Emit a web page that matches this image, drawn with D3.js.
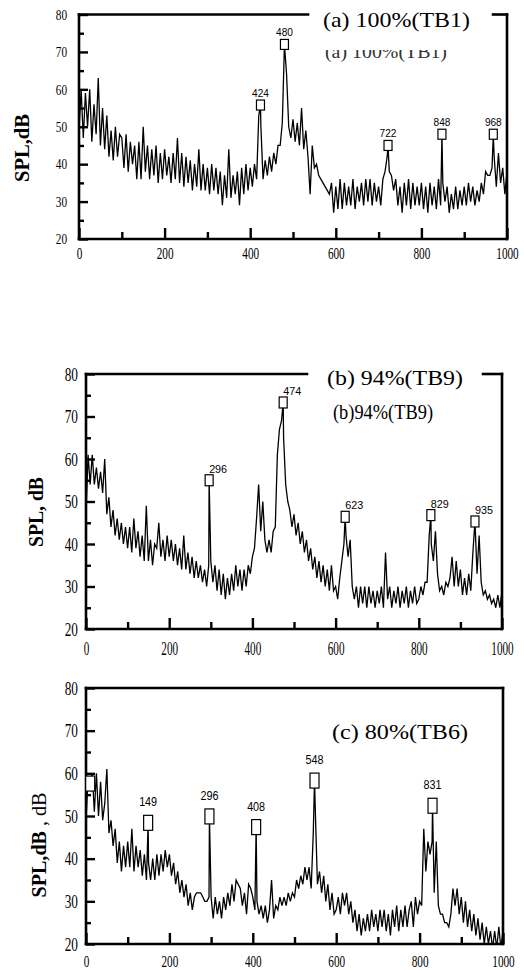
<!DOCTYPE html>
<html><head><meta charset="utf-8">
<script src="https://cdn.jsdelivr.net/npm/d3@7"></script>
<style>body{margin:0;background:#fff} svg{display:block}</style>
</head><body><svg id="chart" width="524" height="970"></svg>
<script>
// ---------------- DATA ----------------
const freqStep = 5; // Hz between spectrum samples (0..1000)
const xTicks = [0, 200, 400, 600, 800, 1000];
const xMinorTicks = [100, 300, 500, 700, 900];
const yTicks = [20, 30, 40, 50, 60, 70, 80];
const yMinorTicks = [25, 35, 45, 55, 65, 75];
const yTitle = "SPL,dB";

// (a) 100%(TB1)
const levelsA = [
  49,60,47,59,50,60,46,56,48,63,45,55,44,53,42,49,41,50,42,48,
  47,39,48,38,46,40,45,36,46,36,50,38,45,36,44,37,45,35,43,36,
  44,37,42,35,43,36,47,35,43,34,42,35,41,33,40,34,44,33,40,33,
  39,32,40,33,39,32,38,29,37,31,44,31,37,32,38,29,39,32,40,33,
  39,34,40,36,53,50,36,41,37,42,38,43,40,45,45,51,72,64,50,47,
  52,46,51,45,55,44,49,42,32,45,39,40,37,36,35,34,33,32,35,27,
  34,28,36,28,35,29,34,29,36,28,34,30,35,29,36,30,36,29,35,30,
  34,29,36,38,42,38,37,33,36,29,34,27,35,29,36,28,35,29,34,29,
  35,28,34,27,35,29,34,28,36,29,35,30,34,27,32,28,34,28,33,29,
  34,29,35,30,34,29,33,30,35,32,38,37,37,39,42,34,43,35,39,32,38
];
const peakFreqA = [424, 480, 722, 848, 968];
const peakLevelA = [55.8, 72, 45, 48, 48];
const peakLabelA = ["424", "480", "722", "848", "968"];
const titleA = "(a)  100%(TB1)";
const subtitleA = "(a) 100%(TB1)";

// (b) 94%(TB9)
const levelsB = [
  47,61,54,61,54,58,53,57,52,60,47,51,44,48,42,46,41,45,40,44,
  39,44,38,46,39,43,37,42,36,49,36,41,35,40,39,45,37,41,36,42,
  37,41,36,40,35,39,34,42,34,38,33,37,32,36,32,35,31,34,30,35,
  36,31,35,29,34,28,33,27,32,28,33,29,35,30,34,29,34,30,35,33,
  37,39,46,54,43,50,41,38,41,38,43,44,61,67,69,65,54,50,48,44,
  47,42,45,40,43,38,41,36,39,34,37,32,36,31,35,30,34,29,35,29,
  30,27,32,36,40,42,37,41,30,27,30,25,30,26,30,25,30,26,29,25,
  29,26,30,25,38,27,30,25,29,26,30,25,29,26,30,25,29,26,30,26,
  27,30,28,31,31,42,40,36,43,33,29,30,28,31,30,32,37,30,36,30,
  34,28,32,28,33,29,38,45,33,42,31,28,29,27,28,26,27,25,28,25,29
];
const peakFreqB = [296, 474, 623, 829, 935];
const peakLevelB = [55, 73.3, 46.4, 46.8, 45.3];
const peakLabelB = ["296", "474", "623", "829", "935"];
const titleB = "(b)  94%(TB9)";
const subtitleB = "(b)94%(TB9)";

// (c) 80%(TB6)
const levelsC = [
  49,59,52,60,51,60,50,58,49,53,61,46,49,43,47,39,44,37,43,38,
  44,38,47,37,43,38,42,36,41,35,39,35,40,35,41,36,41,37,42,38,
  41,36,39,34,37,32,35,31,34,29,32,28,31,32,32,32,31,30,30,31,
  31,26,31,27,30,26,31,28,32,29,34,30,35,34,33,29,32,27,34,33,
  31,28,30,27,29,26,29,25,28,35,26,29,28,31,29,31,29,32,30,32,
  31,35,33,36,34,38,35,38,33,46,51,34,37,32,36,30,34,28,32,27,
  28,31,27,32,29,32,27,30,25,28,23,27,22,26,23,27,23,28,24,27,
  23,28,24,28,23,27,22,28,24,29,23,28,24,29,24,28,30,24,31,27,
  30,29,47,37,44,41,44,32,44,29,27,27,25,25,24,27,33,29,33,27,
  31,25,30,24,28,23,27,22,26,21,25,20,24,20,23,19,23,19,24,19,23
];
const peakFreqC = [10, 149, 296, 408, 548, 831];
const peakLevelC = [57.6, 48.4, 49.9, 47.4, 58.3, 52.4];
const peakLabelC = ["", "149", "296", "408", "548", "831"];
const titleC = "(c)  80%(TB6)";

// ---------------- DRAW ----------------
const svg = d3.select("#chart");
const SERIF = "'Liberation Serif','Times New Roman',serif";
const SANS = "'Liberation Sans',Arial,sans-serif";
const fmt = d3.format("d");

function buildSeries(levels, pf, pl) {
  const m = new Map(levels.map((v, i) => [i * freqStep, v]));
  pf.forEach((f, i) => m.set(f, pl[i]));
  return Array.from(m, ([f, v]) => ({f, v})).sort((a, b) => a.f - b.f);
}

const panels = [
  {key: "a", levels: levelsA, pf: peakFreqA, pl: peakLevelA, plab: peakLabelA,
   L: 79, R: 507, T: 14.5, B: 239, gap: [308, 493],
   xFont: 17, xS: 0.66, xPad: 8, yFont: 15, yS: 0.75, yPad: 12,
   box: [8, 10], labMode: "center", labFont: 10, labW: 5.6, labGap: 3,
   title: {text: titleA, x: 323, y: 27, size: 22, len: 147},
   sub: {text: subtitleA, x: 325, y: 58, size: 18, len: 122, clipY: 50, fill: "#333"},
   yt: {x: 29, y: 148, size: 20, len: 68, parts: [[yTitle, "bold"]]}},
  {key: "b", levels: levelsB, pf: peakFreqB, pl: peakLevelB, plab: peakLabelB,
   L: 86, R: 502, T: 374, B: 629, gap: [307, 483],
   xFont: 18, xS: 0.62, xPad: 13, yFont: 19, yS: 0.7, yPad: 8,
   box: [8, 11], labMode: "right", labFont: 11, labW: 6, labGap: 2,
   title: {text: titleB, x: 327, y: 385, size: 21, len: 136},
   sub: {text: subtitleB, x: 333, y: 419, size: 20, len: 100, fill: "#000"},
   yt: {x: 43, y: 512, size: 21, len: 70, parts: [["SPL, dB", "bold"]]}},
  {key: "c", levels: levelsC, pf: peakFreqC, pl: peakLevelC, plab: peakLabelC,
   L: 86, R: 503, T: 688, B: 944, gap: null,
   xFont: 17, xS: 0.66, xPad: 11, yFont: 19, yS: 0.7, yPad: 8,
   box: [9, 15], labMode: "center", labFont: 13, labW: 6, labGap: 9,
   title: {text: titleC, x: 332, y: 739, size: 21, len: 136},
   sub: null,
   yt: {x: 46, y: 845, size: 22, len: 105, parts: [[yTitle, "bold"], [" , dB", "normal"]]}}
];

panels.forEach(cfg => {
  const g = svg.append("g");
  const x = d3.scaleLinear().domain([0, 1000]).range([cfg.L, cfg.R]);
  const y = d3.scaleLinear().domain([20, 80]).range([cfg.B, cfg.T]);
  const clipId = "clip-" + cfg.key;
  svg.append("clipPath").attr("id", clipId).append("rect")
    .attr("x", cfg.L).attr("y", cfg.T).attr("width", cfg.R - cfg.L).attr("height", cfg.B - cfg.T);

  // spectrum line
  const series = buildSeries(cfg.levels, cfg.pf, cfg.pl);
  g.append("path").datum(series)
    .attr("clip-path", `url(#${clipId})`)
    .attr("fill", "none").attr("stroke", "#000").attr("stroke-width", 1.3)
    .attr("stroke-linejoin", "miter")
    .attr("d", d3.line().x(d => x(d.f)).y(d => y(d.v)));

  // x axis (ticks inward)
  const xMaj = g.append("g").attr("transform", `translate(0,${cfg.B})`)
    .call(d3.axisBottom(x).tickValues(xTicks).tickFormat(fmt).tickSizeInner(-11).tickSizeOuter(0).tickPadding(cfg.xPad));
  const xMin = g.append("g").attr("transform", `translate(0,${cfg.B})`)
    .call(d3.axisBottom(x).tickValues(xMinorTicks).tickSizeInner(-7).tickSizeOuter(0).tickFormat(""));
  // y axis
  const yMaj = g.append("g").attr("transform", `translate(${cfg.L},0)`)
    .call(d3.axisLeft(y).tickValues(yTicks).tickFormat(fmt).tickSizeInner(-9).tickSizeOuter(0).tickPadding(cfg.yPad));
  const yMin = g.append("g").attr("transform", `translate(${cfg.L},0)`)
    .call(d3.axisLeft(y).tickValues(yMinorTicks).tickSizeInner(-5).tickSizeOuter(0).tickFormat(""));
  [xMaj, xMin, yMaj, yMin].forEach(a => {
    a.select(".domain").remove();
    a.selectAll(".tick line").attr("stroke", "#000").attr("stroke-width", 2.4);
  });
  // condensed tick labels (narrow serif digits)
  xMaj.selectAll("text").attr("font-family", SERIF).attr("font-size", cfg.xFont).attr("fill", "#000")
    .attr("transform", `scale(${cfg.xS},1)`);
  yMaj.selectAll("text").attr("font-family", SERIF).attr("font-size", cfg.yFont).attr("fill", "#000")
    .attr("x", -cfg.yPad / cfg.yS).attr("transform", `scale(${cfg.yS},1)`);

  // frame
  const fr = g.append("g").attr("stroke", "#000").attr("stroke-width", 2.6).attr("fill", "none")
    .attr("stroke-linecap", "square");
  fr.append("line").attr("x1", cfg.L).attr("x2", cfg.L).attr("y1", cfg.T).attr("y2", cfg.B);
  fr.append("line").attr("x1", cfg.R).attr("x2", cfg.R).attr("y1", cfg.T).attr("y2", cfg.B);
  fr.append("line").attr("x1", cfg.L).attr("x2", cfg.R).attr("y1", cfg.B).attr("y2", cfg.B);
  if (cfg.gap) {
    fr.append("line").attr("x1", cfg.L).attr("x2", cfg.gap[0]).attr("y1", cfg.T).attr("y2", cfg.T);
    fr.append("line").attr("x1", cfg.gap[1]).attr("x2", cfg.R).attr("y1", cfg.T).attr("y2", cfg.T);
  } else {
    fr.append("line").attr("x1", cfg.L).attr("x2", cfg.R).attr("y1", cfg.T).attr("y2", cfg.T);
  }

  // peak markers
  const [bw, bh] = cfg.box;
  const peaks = cfg.pf.map((f, i) => ({f, v: cfg.pl[i], lab: cfg.plab[i]}));
  g.selectAll("rect.pk").data(peaks).join("rect").attr("class", "pk")
    .attr("x", d => x(d.f) - bw / 2).attr("y", d => y(d.v) - bh / 2)
    .attr("width", bw).attr("height", bh)
    .attr("fill", "#fff").attr("stroke", "#000").attr("stroke-width", 1.2);
  g.selectAll("text.pk").data(peaks.filter(d => d.lab)).join("text").attr("class", "pk")
    .attr("x", d => x(d.f))
    .attr("y", d => y(d.v) - bh / 2 - cfg.labGap)
    .attr("text-anchor", cfg.labMode === "center" ? "middle" : "start")
    .attr("font-family", SANS).attr("font-size", cfg.labFont).attr("fill", "#000")
    .attr("textLength", d => d.lab.length * cfg.labW).attr("lengthAdjust", "spacingAndGlyphs")
    .text(d => d.lab);

  // title
  g.append("text").attr("x", cfg.title.x).attr("y", cfg.title.y)
    .attr("font-family", SERIF).attr("font-size", cfg.title.size).attr("fill", "#000")
    .attr("textLength", cfg.title.len).attr("lengthAdjust", "spacingAndGlyphs")
    .text(cfg.title.text);
  if (cfg.sub) {
    const st = g.append("text").attr("x", cfg.sub.x).attr("y", cfg.sub.y)
      .attr("font-family", SERIF).attr("font-size", cfg.sub.size).attr("fill", cfg.sub.fill)
      .attr("textLength", cfg.sub.len).attr("lengthAdjust", "spacingAndGlyphs")
      .text(cfg.sub.text);
    if (cfg.sub.clipY) {
      const sid = "sub-" + cfg.key;
      svg.append("clipPath").attr("id", sid).append("rect")
        .attr("x", 0).attr("y", cfg.sub.clipY).attr("width", 524).attr("height", 40);
      st.attr("clip-path", `url(#${sid})`);
    }
  }

  // y title
  const yt = g.append("text")
    .attr("transform", `translate(${cfg.yt.x},${cfg.yt.y}) rotate(-90)`)
    .attr("text-anchor", "middle").attr("font-family", SERIF).attr("font-size", cfg.yt.size)
    .attr("fill", "#000").attr("textLength", cfg.yt.len).attr("lengthAdjust", "spacingAndGlyphs");
  cfg.yt.parts.forEach(([t, w]) => yt.append("tspan").attr("font-weight", w).text(t));
});
</script>
</body></html>
